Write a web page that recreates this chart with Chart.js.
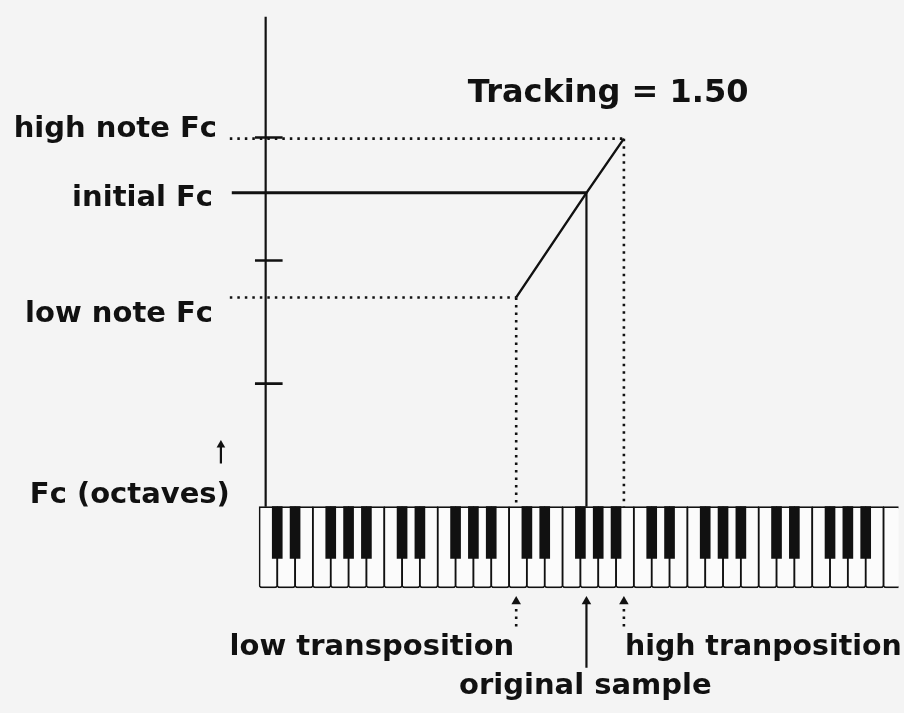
<!DOCTYPE html>
<html>
<head>
<meta charset="utf-8">
<title>Tracking = 1.50</title>
<script src="https://cdn.jsdelivr.net/npm/chart.js@4.4.1/dist/chart.umd.min.js"></script>
<style>
    html, body { margin: 0; padding: 0; background: #f4f4f4; }
    #wrap { width: 904px; height: 713px; position: relative; }
</style>
</head>
<body>
<div id="wrap"><canvas id="trackingChart"></canvas></div>
<script>
// Data
// x = white keys counted from the left end of the keyboard, y = Fc in octaves above the keyboard
const noteNames = ['low transposition', 'original sample', 'high tranposition'];
const notePositions = [14.4, 18.34, 20.44];
const noteFc = [1.70, 2.55, 2.99];
const fcTicks = [1, 2, 3];
const fcAxisTop = 3.98;
const whitePattern = ['C', 'D', 'E', 'F', 'G', 'A', 'B'];
const blackAfter = ['C', 'D', 'F', 'G', 'A'];
const whiteKeyCount = 36;

// Keyboard layout (in axis units)
const keyTop = 0;
const whiteBottom = -0.66;
const blackBottom = -0.42;
const labelStart = -1.66;

const INK = '#111';

// Keys
const whiteKeys = [];
const blackKeys = [];
for (let i = 0; i < whiteKeyCount; i++) {
    whiteKeys.push({ x: i + 0.5, y: [whiteBottom, keyTop] });
    const name = whitePattern[i % 7];
    if (blackAfter.includes(name) && i < whiteKeyCount - 1) {
        blackKeys.push({ x: i + 1, y: [blackBottom, keyTop] });
    }
}

// Helpers for line datasets
function segment(points, extra) {
    return Object.assign({
        type: 'line',
        data: points,
        borderColor: INK,
        backgroundColor: INK,
        borderWidth: 2.2,
        pointRadius: 0,
        tension: 0,
        fill: false,
        order: 0
    }, extra || {});
}
const dotted = { borderDash: [2.5, 5], borderWidth: 2.6 };

const datasets = [];

// Fc axis + octave ticks
datasets.push(segment([{ x: 0.35, y: keyTop }, { x: 0.35, y: fcAxisTop }]));
fcTicks.forEach(t => {
    datasets.push(segment([{ x: -0.25, y: t }, { x: 1.3, y: t }], { borderWidth: 2.6 }));
});

// Horizontal Fc levels
datasets.push(segment([{ x: labelStart, y: noteFc[2] }, { x: notePositions[2], y: noteFc[2] }], dotted));
datasets.push(segment([{ x: labelStart, y: noteFc[0] }, { x: notePositions[0], y: noteFc[0] }], dotted));
datasets.push(segment([{ x: -1.55, y: noteFc[1] }, { x: notePositions[1], y: noteFc[1] }], { borderWidth: 3 }));

// Tracking line
datasets.push(segment(notePositions.map((p, i) => ({ x: p, y: noteFc[i] })), { borderWidth: 2.4 }));

// Verticals down to the keys, and arrows below the keys
notePositions.forEach((p, i) => {
    const style = i === 1 ? { borderWidth: 2.2 } : dotted;
    datasets.push(segment([{ x: p, y: noteFc[i] }, { x: p, y: keyTop }], style));
    datasets.push(segment(
        [{ x: p, y: -0.77 }, { x: p, y: i === 1 ? -1.31 : -0.99 }],
        Object.assign({}, style, { pointRadius: [5.5, 0], pointStyle: 'triangle', pointBorderWidth: 0 })
    ));
});

// small arrow above "Fc (octaves)"
datasets.push(segment([{ x: -2.16, y: 0.35 }, { x: -2.16, y: 0.5 }],
    { pointRadius: [0, 5], pointStyle: 'triangle', pointBorderWidth: 0 }));

// Keyboard
datasets.push({
    type: 'bar',
    data: blackKeys,
    backgroundColor: INK,
    borderWidth: 0,
    barThickness: 10,
    grouped: false,
    order: 1
});
datasets.push({
    type: 'bar',
    data: whiteKeys,
    backgroundColor: '#fbfbfb',
    borderColor: INK,
    borderWidth: 1.6,
    borderSkipped: false,
    borderRadius: { topLeft: 0, topRight: 0, bottomLeft: 3, bottomRight: 3 },
    barThickness: 18.5,
    grouped: false,
    order: 2
});

// Text labels
const textLabels = [
    { text: 'Tracking = 1.50', x: 11.69, y: 3.288, align: 'left', size: 32 },
    { text: 'high note Fc', x: -2.38, y: 3.0, align: 'right', size: 29 },
    { text: 'initial Fc', x: -2.6, y: 2.44, align: 'right', size: 29 },
    { text: 'low note Fc', x: -2.6, y: 1.504, align: 'right', size: 29 },
    { text: 'Fc (octaves)', x: -1.66, y: 0.032, align: 'right', size: 29 },
    { text: noteNames[0], x: 14.29, y: -1.208, align: 'right', size: 29 },
    { text: noteNames[2], x: 20.5, y: -1.208, align: 'left', size: 28.4 },
    { text: noteNames[1], x: 18.28, y: -1.52, align: 'center', size: 29 }
];

const textPlugin = {
    id: 'diagramText',
    afterDatasetsDraw(chart) {
        const { ctx, scales: { x, y } } = chart;
        ctx.save();
        ctx.fillStyle = INK;
        ctx.textBaseline = 'alphabetic';
        textLabels.forEach(l => {
            ctx.font = `bold ${l.size}px "DejaVu Sans", sans-serif`;
            ctx.textAlign = l.align;
            ctx.fillText(l.text, x.getPixelForValue(l.x), y.getPixelForValue(l.y));
        });
        ctx.restore();
    }
};

new Chart(document.getElementById('trackingChart'), {
    type: 'bar',
    data: { datasets },
    options: {
        responsive: true,
        maintainAspectRatio: false,
        animation: false,
        events: [],
        layout: { padding: 0 },
        plugins: {
            legend: { display: false },
            tooltip: { enabled: false }
        },
        scales: {
            x: { type: 'linear', min: -14.24, max: 35.84, offset: false, display: false },
            y: { type: 'linear', min: -1.632, max: 4.072, display: false }
        }
    },
    plugins: [textPlugin]
});
</script>
</body>
</html>
